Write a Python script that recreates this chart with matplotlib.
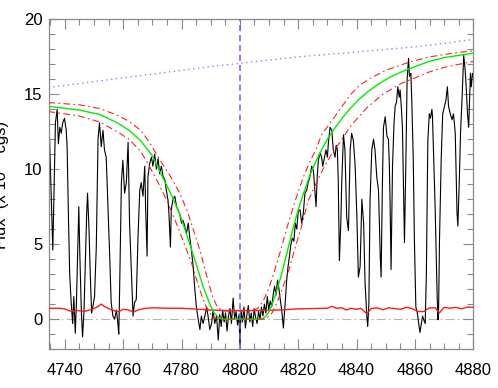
import matplotlib as mpl
mpl.use('Agg')
import matplotlib.pyplot as plt
from matplotlib.ticker import MultipleLocator
import numpy as np

plt.rcParams['font.family'] = ['Liberation Sans', 'DejaVu Sans']

# observed spectrum (wavelength, flux)
wave = [4734.4, 4734.8, 4735.3, 4735.9, 4736.2, 4736.8, 4737.4, 4737.8, 4738.3, 4738.8,
        4739.3, 4739.9, 4740.5, 4740.8, 4741.3, 4741.7, 4742.2, 4742.7, 4743.1, 4743.6,
        4744.0, 4744.5, 4744.8, 4745.2, 4745.7, 4746.1, 4746.6, 4747.0, 4747.5, 4747.8,
        4748.3, 4748.7, 4749.2, 4749.6, 4750.2, 4750.8, 4751.4, 4751.9, 4752.5, 4753.1,
        4753.6, 4754.2, 4754.8, 4755.4, 4755.9, 4756.5, 4757.1, 4757.7, 4758.2, 4758.5,
        4758.8, 4759.4, 4759.9, 4760.5, 4761.1, 4761.7, 4762.2, 4762.8, 4763.4, 4763.9,
        4764.5, 4765.1, 4765.7, 4766.2, 4766.8, 4767.4, 4767.7, 4768.2, 4768.5, 4769.1,
        4769.7, 4770.2, 4770.8, 4771.4, 4772.0, 4772.5, 4773.1, 4773.7, 4774.3, 4774.8,
        4775.4, 4775.7, 4776.2, 4776.5, 4777.1, 4777.7, 4778.3, 4778.8, 4779.4, 4780.0,
        4780.5, 4781.1, 4781.7, 4782.3, 4782.8, 4783.4, 4784.0, 4784.6, 4785.1, 4785.7,
        4786.3, 4786.8, 4787.4, 4788.0, 4788.6, 4789.1, 4789.7, 4790.3, 4790.8, 4791.4,
        4792.0, 4792.6, 4793.1, 4793.6, 4794.1, 4794.6, 4795.1, 4795.6, 4796.1, 4796.6,
        4797.1, 4797.7, 4798.2, 4798.7, 4799.2, 4799.7, 4800.0, 4800.4, 4800.9, 4801.4,
        4801.9, 4802.4, 4802.9, 4803.4, 4803.9, 4804.4, 4804.9, 4805.4, 4805.9, 4806.4,
        4806.9, 4807.4, 4807.9, 4808.4, 4808.9, 4809.4, 4809.9, 4810.4, 4810.9, 4811.4,
        4811.9, 4812.4, 4812.9, 4813.4, 4813.9, 4814.4, 4814.9, 4815.5, 4816.0, 4816.5,
        4817.0, 4817.5, 4818.0, 4818.5, 4819.0, 4819.5, 4820.0, 4820.6, 4821.2, 4821.7,
        4822.3, 4822.9, 4823.4, 4824.0, 4824.6, 4825.2, 4825.7, 4826.1, 4826.5, 4826.9,
        4827.5, 4828.0, 4828.4, 4828.8, 4829.5, 4830.0, 4830.3, 4830.9, 4831.5, 4832.0,
        4832.6, 4833.0, 4833.4, 4833.7, 4834.1, 4834.6, 4834.9, 4835.5, 4836.0, 4836.6,
        4837.2, 4837.8, 4838.3, 4838.9, 4839.5, 4840.1, 4840.6, 4841.2, 4841.8, 4842.4,
        4842.9, 4843.5, 4843.8, 4844.2, 4844.6, 4845.2, 4845.8, 4846.3, 4846.9, 4847.5,
        4848.1, 4848.4, 4848.8, 4849.2, 4849.8, 4850.4, 4850.9, 4851.2, 4851.5, 4851.8,
        4852.3, 4852.8, 4853.2, 4853.7, 4854.1, 4854.6, 4854.9, 4855.3, 4855.7, 4856.1,
        4856.4, 4856.9, 4857.3, 4857.8, 4858.1, 4858.6, 4858.9, 4859.4, 4859.8, 4860.3,
        4860.8, 4861.2, 4861.7, 4862.1, 4862.6, 4863.1, 4863.5, 4863.9, 4864.2, 4864.4,
        4864.9, 4865.3, 4865.8, 4866.0, 4866.4, 4866.9, 4867.3, 4867.6, 4867.9, 4868.1,
        4868.4, 4869.0, 4869.5, 4870.1, 4870.6, 4871.1, 4871.5, 4872.1, 4872.7, 4873.2,
        4873.8, 4874.4, 4874.7, 4875.2, 4875.6, 4876.1, 4876.7, 4877.2, 4877.6, 4878.0,
        4878.4, 4879.0, 4879.3, 4879.7, 4880.2]
flux = [12.7, 12.0, 8.6, 4.6, 7.5, 13.1, 14.0, 11.7, 12.8, 12.4,
        13.1, 13.4, 12.6, 11.5, 6.4, 2.9, 1.1, -0.3, 1.5, -0.95,
        1.1, 5.0, 7.5, 4.0, 0.4, -1.2, 0.6, 3.5, 7.0, 8.4,
        6.0, 3.2, 0.4, 0.8, 1.5, 4.8, 12.0, 13.1, 11.5, 12.6,
        11.3, 10.8, 7.5, 4.2, 1.1, 0.2, 0.0, 0.6, -0.3, -1.0,
        2.0, 9.1, 10.6, 8.4, 9.1, 11.8, 6.4, 3.2, 0.2, 1.1,
        1.3, 5.5, 8.6, 9.1, 8.2, 10.2, 7.5, 4.2, 9.5, 10.4,
        10.8, 10.2, 11.0, 10.0, 10.7, 9.7, 10.2, 9.5, 9.3, 8.6,
        7.9, 7.0, 4.8, 7.3, 8.0, 8.2, 7.5, 7.3, 7.0, 6.4,
        6.6, 6.2, 5.7, 6.4, 5.5, 4.6, 3.5, 1.9, 0.8, 0.0,
        -0.7, 0.2, -0.3, 0.2, 0.8, 0.2, -0.7, -0.3, 0.6, -0.3,
        0.2, -1.4, 0.3, -0.5, 0.6, -0.2, 0.4, -0.8, 0.2, 0.7,
        -0.3, 1.4, 0.0, 0.5, -0.4, 0.3, -1.7, 0.6, -0.2, 0.8,
        -0.6, 0.3, 0.9, -0.2, 0.4, -0.5, 0.7, 0.1, -0.3, 0.5,
        0.0, 0.8, 0.2, 1.0, 0.4, 1.5, 0.6, 1.2, 0.8, 1.6,
        2.2, 1.6, 2.6, 2.0, 1.2, 0.5, -0.6, 1.0, 2.5, 3.5,
        4.2, 5.0, 5.4, 5.2, 6.4, 6.0, 7.2, 7.3, 6.4, 7.0,
        8.4, 8.6, 9.1, 9.5, 10.2, 9.9, 8.6, 7.5, 9.5, 10.6,
        11.1, 10.8, 10.2, 10.6, 11.3, 10.8, 11.7, 12.8, 12.6, 11.3,
        10.8, 11.6, 11.3, 9.3, 3.9, 6.5, 9.1, 12.3, 11.3, 6.8,
        5.9, 11.3, 12.4, 11.9, 10.2, 6.8, 2.8, 3.5, 8.0, 6.4,
        2.4, 0.2, -0.5, 1.0, 7.9, 11.3, 12.0, 11.3, 9.5, 8.6,
        4.2, 2.8, 8.6, 12.8, 13.5, 12.2, 12.0, 10.4, 7.5, 3.3,
        10.2, 13.0, 14.2, 14.5, 15.5, 14.8, 15.3, 14.2, 12.8, 8.6,
        5.1, 10.8, 16.0, 17.4, 16.2, 16.4, 14.6, 10.8, 5.3, 0.8,
        0.4, -0.2, -0.9, -0.4, 0.2, -0.1, -0.3, 3.0, 8.5, 11.9,
        13.7, 13.4, 14.0, 13.5, 10.8, 7.5, 4.0, 1.5, -0.05, 0.8,
        5.3, 10.8, 13.7, 14.2, 14.6, 15.5, 14.2, 13.7, 13.3, 13.7,
        12.4, 7.1, 6.2, 9.3, 12.4, 14.6, 17.6, 16.6, 15.3, 13.7,
        12.8, 16.4, 15.5, 16.4, 16.0]

# error spectrum
err_wave = [4734.4, 4738, 4740, 4741.5, 4743, 4744, 4745, 4747, 4748.5, 4750,
            4751.5, 4752.5, 4753.5, 4755, 4757, 4758.5, 4760, 4762, 4763.5, 4765,
            4767, 4770, 4775, 4780, 4785, 4790, 4795, 4800, 4805, 4810,
            4815, 4820, 4825, 4830, 4831.5, 4833, 4835, 4836.5, 4838, 4840,
            4841.5, 4843.5, 4845, 4847, 4849, 4851, 4853, 4855, 4857, 4859,
            4861, 4863, 4865, 4867, 4868.3, 4870, 4872, 4874, 4876, 4878, 4880.2]
err_flux = [0.72, 0.72, 0.68, 0.55, 0.52, 0.58, 0.55, 0.52, 0.6, 0.7,
            0.85, 1.0, 0.85, 0.7, 0.55, 0.5, 0.65, 0.6, 0.45, 0.6,
            0.7, 0.75, 0.72, 0.72, 0.66, 0.6, 0.57, 0.57, 0.57, 0.58,
            0.62, 0.68, 0.7, 0.72, 0.85, 0.72, 0.75, 0.6, 0.72, 0.65,
            0.72, 0.35, 0.7, 0.75, 0.62, 0.75, 0.7, 0.65, 0.78, 0.7,
            0.5, 0.5, 0.75, 0.75, 0.4, 0.78, 0.72, 0.78, 0.68, 0.8, 0.78]

# model profile and its upper / lower bounds
mod_wave = [4734.4, 4745, 4752, 4758, 4762, 4766, 4770, 4773.7, 4776.5, 4779.4,
            4782, 4785, 4787.5, 4789.7, 4791, 4792.6, 4794, 4807, 4808, 4809,
            4810, 4811, 4812, 4814, 4816, 4818, 4820, 4822, 4824, 4826,
            4828, 4830, 4832, 4835, 4838, 4841, 4844, 4848, 4852, 4856,
            4860, 4865, 4870, 4875, 4880.2]
mod_flux = [14.2, 13.95, 13.65, 13.1, 12.6, 11.9, 10.9, 9.4, 8.3, 7.0,
            5.5, 3.7, 2.1, 1.0, 0.45, 0.12, 0.0, 0.0, 0.05, 0.2,
            0.5, 0.95, 1.5, 2.8, 4.3, 5.9, 7.3, 8.5, 9.6, 10.5,
            11.3, 12.0, 12.6, 13.4, 14.1, 14.7, 15.2, 15.75, 16.2, 16.55,
            16.85, 17.2, 17.45, 17.6, 17.75]

up_wave = [4734.4, 4745, 4752, 4758, 4762, 4766, 4769, 4773, 4776, 4779.4,
           4782, 4784, 4786.3, 4788.6, 4790.5, 4792, 4793.5, 4795, 4804, 4806,
           4808, 4810, 4812, 4814, 4816, 4818, 4820, 4822, 4824, 4826,
           4828, 4831, 4835, 4838, 4841, 4845, 4850, 4855, 4860, 4865,
           4870, 4875, 4880.2]
up_flux = [14.45, 14.3, 14.05, 13.6, 13.2, 12.6, 11.8, 10.5, 9.6, 8.4,
           7.2, 6.0, 4.6, 2.9, 1.6, 0.9, 0.6, 0.53, 0.53, 0.7,
           1.2, 2.1, 3.3, 4.6, 6.0, 7.3, 8.5, 9.6, 10.5, 11.3,
           12.3, 13.1, 14.2, 15.0, 15.6, 16.1, 16.6, 16.95, 17.25, 17.5,
           17.65, 17.8, 17.9]

lo_wave = [4734.4, 4745, 4752, 4758, 4762, 4766, 4769, 4772, 4775, 4778,
           4781, 4783.5, 4786, 4788, 4789.7, 4791, 4792.5, 4808.5, 4809.5, 4811,
           4812.5, 4814.5, 4817, 4819, 4821, 4823.4, 4826, 4829, 4832, 4834.3,
           4838, 4843.5, 4849, 4855, 4860, 4865, 4870, 4875, 4880.2]
lo_flux = [13.85, 13.55, 13.15, 12.5, 12.0, 11.2, 10.2, 9.1, 7.9, 6.5,
           5.0, 3.7, 2.1, 1.0, 0.4, 0.1, 0.0, 0.0, 0.1, 0.4,
           1.0, 2.0, 3.4, 4.8, 6.1, 7.9, 9.0, 10.2, 11.2, 11.8,
           12.9, 14.1, 15.0, 15.7, 16.1, 16.5, 16.8, 17.0, 17.2]

# continuum
cont_wave = [4734.4, 4750, 4770, 4790, 4800, 4820, 4841, 4860, 4870, 4880.2]
cont_flux = [15.45, 15.85, 16.35, 16.85, 17.07, 17.5, 17.84, 18.17, 18.4, 18.67]

line_center = 4800

fig = plt.figure(figsize=(4.98, 3.88), dpi=100)
ax = fig.add_axes([0.099, 0.1005, 0.8515, 0.8495])

ax.axhline(0, color='#b4b4b4', lw=0.8, ls=(0, (8, 3, 1.5, 3)), zorder=1)
ax.plot(wave, flux, color='k', lw=0.8, zorder=2)
ax.plot(err_wave, err_flux, color='#ff1a1a', lw=1.0, zorder=3)
ax.plot(mod_wave, mod_flux, color='#00ee00', lw=1.0, zorder=4)
ax.plot(up_wave, up_flux, color='#ff2020', lw=0.8, ls=(0, (6, 3, 1.5, 3)), zorder=4)
ax.plot(lo_wave, lo_flux, color='#ff2020', lw=0.8, ls=(0, (6, 3, 1.5, 3)), zorder=4)
ax.plot(cont_wave, cont_flux, color='#b070ff', lw=1.0, ls=(0, (1, 2.5)), zorder=4)
ax.axvline(line_center, color='#6060ff', lw=1.1, ls=(0, (4, 2.5)), zorder=5)

ax.set_xlim(4734.7, 4880)
ax.set_ylim(-2, 20)
ax.xaxis.set_major_locator(MultipleLocator(20))
ax.xaxis.set_minor_locator(MultipleLocator(5))
ax.yaxis.set_major_locator(MultipleLocator(5))
ax.yaxis.set_minor_locator(MultipleLocator(1))
ax.tick_params(which='both', direction='in', top=True, right=True, color='#888888', width=0.8)
ax.tick_params(which='major', length=7)
ax.tick_params(which='minor', length=4)
ax.tick_params(axis='x', which='major', pad=10, labelsize=12)
ax.tick_params(axis='y', which='major', pad=5, labelsize=12)
for s in ax.spines.values():
    s.set_color('#888888')
    s.set_linewidth(0.9)

fig.text(0.019, 0.523, 'Flux  (x 10    cgs)', rotation=90, ha='right', va='center', fontsize=12)

plt.savefig('out.png', dpi=100)
